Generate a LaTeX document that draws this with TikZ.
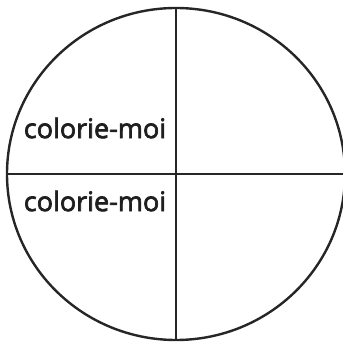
\documentclass[tikz,border=0pt]{standalone}
\usepackage{fontspec}
\newfontfamily\lblfont{Open Sans}[FakeBold=2.5]
\tikzset{edge/.style={line width=2.4pt, draw={black!85}},
  lbl/.style={font=\fontsize{27}{30}\lblfont, text={black!88}, inner sep=0pt}}
\begin{document}
\begin{tikzpicture}[x=1pt,y=-1pt]
\useasboundingbox (0,0) rectangle (343,342);
\begin{scope}
\clip (0,0) rectangle (343,342);
\draw[edge] (176,174) ellipse [x radius=169, y radius=166];
\end{scope}
\coordinate (T) at (176,8);
\coordinate (B) at (176,340);
\coordinate (L) at (7,174);
\coordinate (R) at (343,174);
\draw[edge] (T) -- (B);
\draw[edge] (L) -- (R);
\node[lbl] (q1) at (95,128) {colorie-moi};
\node[lbl] (q2) at (95,201) {colorie-moi};
\end{tikzpicture}
\end{document}
